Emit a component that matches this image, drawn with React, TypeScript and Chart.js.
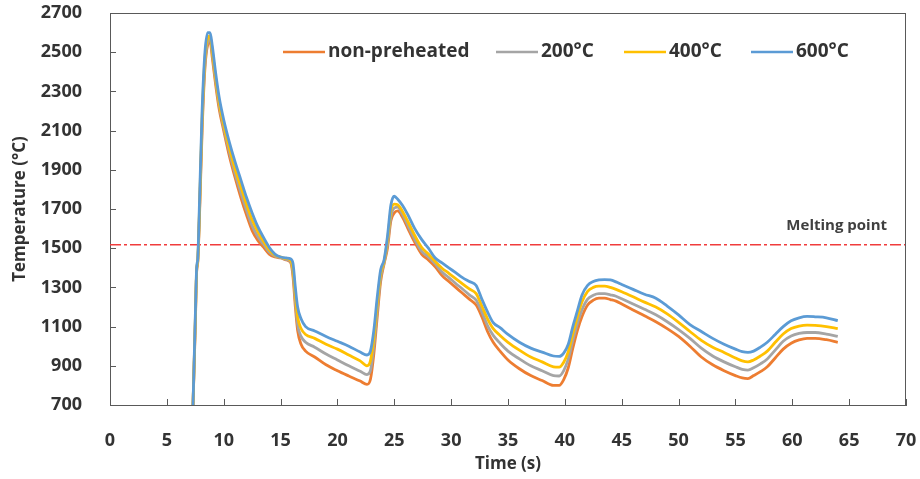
import React, { useEffect, useRef } from "react";
import { Chart, registerables } from "chart.js";

Chart.register(...registerables);

// ---- data ----
const timeS = [
  7.3, 7.5, 7.62, 7.72, 7.9, 8.1, 8.35, 8.6, 8.8, 9.0, 9.3, 9.6, 10, 10.5, 11, 11.5, 12, 12.5, 13, 13.5,
  14, 14.5, 15, 15.5, 15.9, 16.1, 16.3, 16.5, 16.8, 17.2, 18, 19, 20, 21, 22, 22.6, 22.9, 23.2, 23.5, 23.8,
  24.1, 24.4, 24.7, 25.0, 25.3, 25.7, 26.2, 26.8, 27.4, 28, 28.6, 29.2, 29.8, 30.4, 31, 31.6, 32.2, 32.7, 33.2, 33.7,
  34.3, 35, 36, 37, 38, 39, 39.5, 39.9, 40.3, 40.7, 41.1, 41.5, 42, 42.5, 43, 43.5, 44, 44.5, 45, 46,
  47, 48, 49, 50, 51, 52, 53, 54, 55, 55.6, 56.1, 56.6, 57.2, 57.8, 58.5, 59.2, 59.9, 60.6, 61.3, 62,
  63, 64,
];

const nonPreheated = [
  700, 1100, 1380, 1430, 1720, 2100, 2420, 2540, 2555, 2470, 2330, 2210, 2100, 1970, 1860, 1760, 1670, 1590, 1540, 1505,
  1470, 1455, 1450, 1440, 1425, 1350, 1200, 1080, 1010, 975, 945, 905, 875, 848, 822, 805, 830, 960, 1150, 1330,
  1420, 1500, 1640, 1680, 1690, 1660, 1600, 1530, 1470, 1440, 1405, 1360, 1330, 1300, 1270, 1240, 1210, 1150, 1075, 1020,
  975, 930, 885, 850, 825, 800, 800, 830, 890, 990, 1080, 1150, 1210, 1235, 1245, 1245, 1238, 1230, 1215, 1185,
  1155, 1125, 1090, 1050, 1000, 945, 905, 875, 850, 838, 835, 850, 870, 895, 940, 985, 1015, 1032, 1040, 1040,
  1033, 1020,
];

const preheated200 = [
  700, 1120, 1385, 1435, 1740, 2130, 2440, 2555, 2570, 2490, 2350, 2230, 2115, 1990, 1880, 1785, 1695, 1615, 1560, 1520,
  1480, 1460, 1452, 1443, 1430, 1370, 1230, 1110, 1050, 1020, 995, 960, 930, 900, 872, 855, 875, 1000, 1180, 1350,
  1425, 1520, 1660, 1705, 1710, 1675, 1615, 1545, 1485, 1455, 1420, 1378, 1350, 1320, 1292, 1262, 1235, 1175, 1105, 1055,
  1015, 975, 935, 900, 875, 850, 848, 875, 935, 1030, 1115, 1185, 1240, 1260, 1268, 1268, 1262, 1255, 1242, 1215,
  1188, 1160, 1125, 1085, 1040, 990, 950, 920, 895, 882, 878, 890, 910, 935, 980, 1025, 1052, 1065, 1070, 1070,
  1062, 1050,
];

const preheated400 = [
  700, 1130, 1390, 1440, 1760, 2160, 2470, 2575, 2585, 2505, 2365, 2245, 2130, 2010, 1905, 1815, 1725, 1645, 1585, 1535,
  1492, 1465, 1455, 1447, 1437, 1390, 1265, 1150, 1090, 1060, 1040, 1010, 985, 955, 925, 900, 925, 1040, 1215, 1370,
  1432, 1540, 1690, 1725, 1722, 1690, 1635, 1565, 1505, 1470, 1432, 1398, 1372, 1345, 1318, 1292, 1268, 1205, 1140, 1090,
  1055, 1020, 980, 945, 920, 895, 893, 918, 972, 1065, 1150, 1225, 1280, 1300, 1306, 1306, 1300, 1290, 1278, 1252,
  1225, 1200, 1165, 1122, 1075, 1030, 995, 968, 940, 925, 920, 930, 950, 975, 1020, 1062, 1090, 1103, 1108, 1106,
  1100, 1090,
];

const preheated600 = [
  700, 1150, 1400, 1450, 1800, 2200, 2500, 2600, 2600, 2530, 2390, 2270, 2155, 2040, 1940, 1850, 1760, 1680, 1610, 1555,
  1505, 1470, 1455, 1450, 1445, 1420, 1300, 1200, 1140, 1100, 1078, 1050, 1025, 1000, 970, 955, 975, 1080, 1250, 1390,
  1440, 1560, 1720, 1765, 1750, 1720, 1670, 1600, 1545, 1500, 1450, 1425, 1400, 1375, 1350, 1330, 1310, 1240, 1175, 1120,
  1095, 1060, 1020, 990, 970, 950, 948, 965, 1010, 1100, 1180, 1260, 1310, 1330, 1338, 1340, 1338, 1328, 1315, 1290,
  1265, 1245, 1205, 1160, 1110, 1075, 1040, 1010, 985, 972, 968, 975, 995, 1020, 1060, 1100, 1130, 1145, 1152, 1150,
  1145, 1130,
];

const seriesLabels = ["non-preheated", "200°C", "400°C", "600°C"];
const seriesValues = [nonPreheated, preheated200, preheated400, preheated600];
const seriesColors = ["#ED7D31", "#A5A5A5", "#FFC000", "#5B9BD5"];

const xMin = 0;
const xMax = 70;
const xStep = 5;
const yMin = 700;
const yMax = 2700;
const yStep = 200;

const meltingPoint = 1518;
const meltingLabel = "Melting point";
const xTitle = "Time (s)";
const yTitle = "Temperature (°C)";

// legend line starts (pixel x) — layout only
const legendX = [283, 496, 624, 751];

const FONT = "'Open Sans', 'DejaVu Sans', sans-serif";
const TEXT = "#333333";
const AXIS = "#595959";

const decorPlugin = {
  id: "decor",
  beforeDatasetsDraw(chart: any) {
    const { ctx, chartArea, scales } = chart;
    const y = scales.y.getPixelForValue(meltingPoint);
    ctx.save();
    ctx.strokeStyle = "#F03C3C";
    ctx.lineWidth = 1.5;
    ctx.setLineDash([11, 3, 3, 3]);
    ctx.beginPath();
    ctx.moveTo(chartArea.left, y);
    ctx.lineTo(chartArea.right, y);
    ctx.stroke();
    ctx.restore();
  },
  afterDraw(chart: any) {
    const { ctx, chartArea, scales } = chart;
    const { left, right, top, bottom } = chartArea;
    ctx.save();
    // frame
    ctx.strokeStyle = AXIS;
    ctx.lineWidth = 1;
    ctx.beginPath();
    ctx.moveTo(left, top + 0.5);
    ctx.lineTo(right, top + 0.5);
    ctx.moveTo(right - 0.5, top);
    ctx.lineTo(right - 0.5, bottom);
    ctx.stroke();
    // inside ticks
    ctx.beginPath();
    scales.x.ticks.forEach((t: any) => {
      const px = Math.round(scales.x.getPixelForValue(t.value)) + 0.5;
      ctx.moveTo(px, bottom);
      ctx.lineTo(px, bottom - 6);
    });
    scales.y.ticks.forEach((t: any) => {
      const py = Math.round(scales.y.getPixelForValue(t.value)) + 0.5;
      ctx.moveTo(left, py);
      ctx.lineTo(left + 6, py);
    });
    ctx.stroke();

    // melting label
    const my = scales.y.getPixelForValue(meltingPoint);
    ctx.fillStyle = "#404040";
    ctx.font = `bold 15px ${FONT}`;
    ctx.textAlign = "right";
    ctx.textBaseline = "middle";
    ctx.fillText(meltingLabel, 887, my - 19);

    // axis titles
    ctx.fillStyle = TEXT;
    ctx.font = `bold 17px ${FONT}`;
    ctx.textAlign = "center";
    ctx.fillText(xTitle, (left + right) / 2, 464);
    ctx.save();
    ctx.translate(20, (top + bottom) / 2);
    ctx.rotate(-Math.PI / 2);
    ctx.fillText(yTitle, 0, 0);
    ctx.restore();

    // legend
    ctx.font = `bold 19px ${FONT}`;
    ctx.textAlign = "left";
    const ly = 52;
    chart.data.datasets.forEach((ds: any, i: number) => {
      const x = legendX[i];
      ctx.strokeStyle = ds.borderColor;
      ctx.lineWidth = 2.5;
      ctx.setLineDash([]);
      ctx.beginPath();
      ctx.moveTo(x, ly);
      ctx.lineTo(x + 42, ly);
      ctx.stroke();
      ctx.fillStyle = TEXT;
      ctx.fillText(ds.label, x + 45, ly);
    });
    ctx.restore();
  },
};

export default function App() {
  const ref = useRef<HTMLCanvasElement | null>(null);
  useEffect(() => {
    document.body.style.margin = "0";
    if (!ref.current) return;
    const chart = new Chart(ref.current, {
      type: "line",
      data: {
        datasets: seriesLabels.map((label, i) => ({
          label,
          data: timeS.map((t, j) => ({ x: t, y: seriesValues[i][j] })),
          borderColor: seriesColors[i],
          backgroundColor: seriesColors[i],
          borderWidth: 2.8,
          pointRadius: 0,
          tension: 0.4,
          cubicInterpolationMode: "monotone" as const,
          fill: false,
          order: 3 - i,
        })),
      },
      options: {
        responsive: false,
        animation: false,
        layout: { padding: { left: 0, right: 14, top: 13, bottom: 0 } },
        plugins: {
          legend: { display: false },
          tooltip: { enabled: false },
        },
        scales: {
          x: {
            type: "linear",
            min: xMin,
            max: xMax,
            grid: { display: false },
            border: { display: true, color: AXIS, width: 1 },
            ticks: {
              stepSize: xStep,
              padding: 17,
              color: TEXT,
              font: { family: FONT, size: 18, weight: "bold" },
              maxRotation: 0,
              callback: (v: any) => String(v),
            },
            afterFit: (s: any) => {
              s.height = 74;
              s.paddingLeft = 0;
              s.paddingRight = 0;
            },
          },
          y: {
            type: "linear",
            min: yMin,
            max: yMax,
            grid: { display: false },
            border: { display: true, color: AXIS, width: 1 },
            ticks: {
              stepSize: yStep,
              padding: 20,
              color: TEXT,
              font: { family: FONT, size: 18, weight: "bold" },
              callback: (v: any) => String(v),
            },
            afterFit: (s: any) => {
              s.width = 110;
              s.paddingTop = 0;
              s.paddingBottom = 0;
            },
          },
        },
      },
      plugins: [decorPlugin],
    });
    return () => chart.destroy();
  }, []);
  return (
    <div style={{ position: "fixed", left: 0, top: 0, width: 920, height: 479, background: "#fff" }}>
      <canvas ref={ref} width={920} height={479} style={{ width: 920, height: 479 }} />
    </div>
  );
}
